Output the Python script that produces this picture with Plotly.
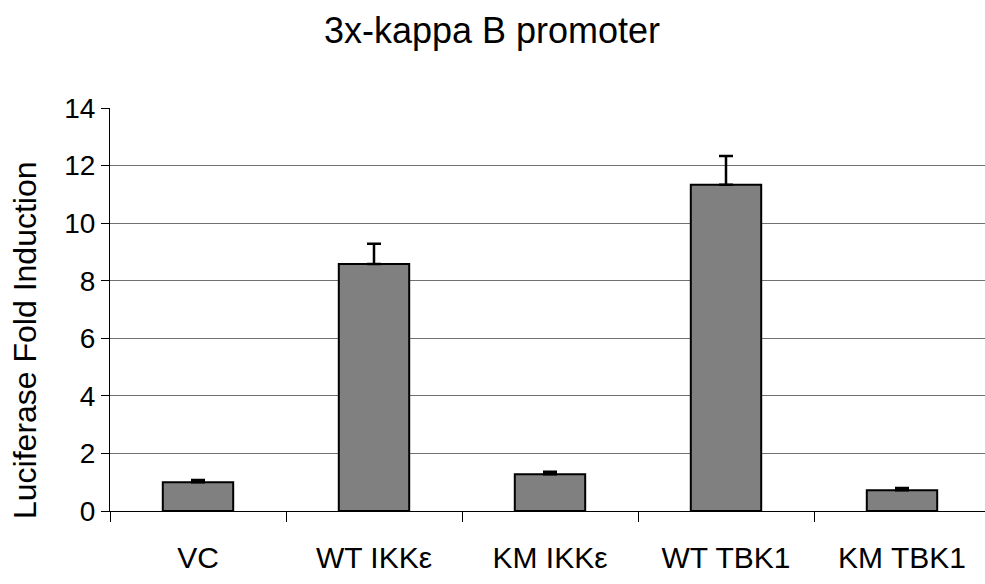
import plotly.graph_objects as go

categories = ["VC", "WT IKKε", "KM IKKε", "WT TBK1", "KM TBK1"]
fold_induction = [1.0, 8.58, 1.28, 11.33, 0.72]
error_upper = [0.08, 0.70, 0.08, 1.00, 0.08]
error_lower = [0, 0, 0, 0, 0]
y_ticks = [0, 2, 4, 6, 8, 10, 12, 14]

fig = go.Figure()
fig.add_trace(go.Bar(
    x=categories,
    y=fold_induction,
    marker=dict(color="#808080", line=dict(color="#000000", width=2)),
    width=0.4,
    error_y=dict(type="data", symmetric=False, array=error_upper, arrayminus=error_lower,
                 visible=True, color="#000000", thickness=2.5, width=7),
    showlegend=False,
))

FONT = "Liberation Sans, Arial, sans-serif"
fig.update_layout(
    width=985, height=584,
    margin=dict(l=110, r=0, t=108, b=73),
    paper_bgcolor="white", plot_bgcolor="white",
    font=dict(family=FONT, color="#000000"),
    title=dict(text="3x-kappa B promoter", font=dict(size=36, family=FONT, color="#000000"),
               x=492/985, xref="container", xanchor="center",
               y=1 - 30/584, yref="container", yanchor="middle"),
    xaxis=dict(
        range=[-0.5, -0.5 + 875/176],
        showline=True, linecolor="#000000", linewidth=1,
        ticks="outside", ticklen=10, tickcolor="#000000", tickwidth=1,
        tickson="boundaries",
        tickfont=dict(size=30, family=FONT, color="#000000"),
        ticklabelstandoff=20,
        showgrid=False, zeroline=False,
    ),
    yaxis=dict(
        range=[0, 14], tickvals=y_ticks,
        showline=True, linecolor="#000000", linewidth=1,
        ticks="outside", ticklen=8, tickcolor="#000000",
        tickfont=dict(size=28, family=FONT, color="#000000"),
        showgrid=True, gridcolor="#707070", gridwidth=1,
        zeroline=False,
    ),
    annotations=[dict(
        text="Luciferase Fold Induction", textangle=-90,
        xref="paper", yref="paper", x=(25 - 110) / 875, y=(511 - 340) / 403,
        xanchor="center", yanchor="middle", showarrow=False,
        font=dict(size=32, family=FONT, color="#000000"),
    )],
)

fig.write_html("out.html", config={"displayModeBar": False},
               post_script="document.body.style.margin='0';document.body.style.overflow='hidden';")
